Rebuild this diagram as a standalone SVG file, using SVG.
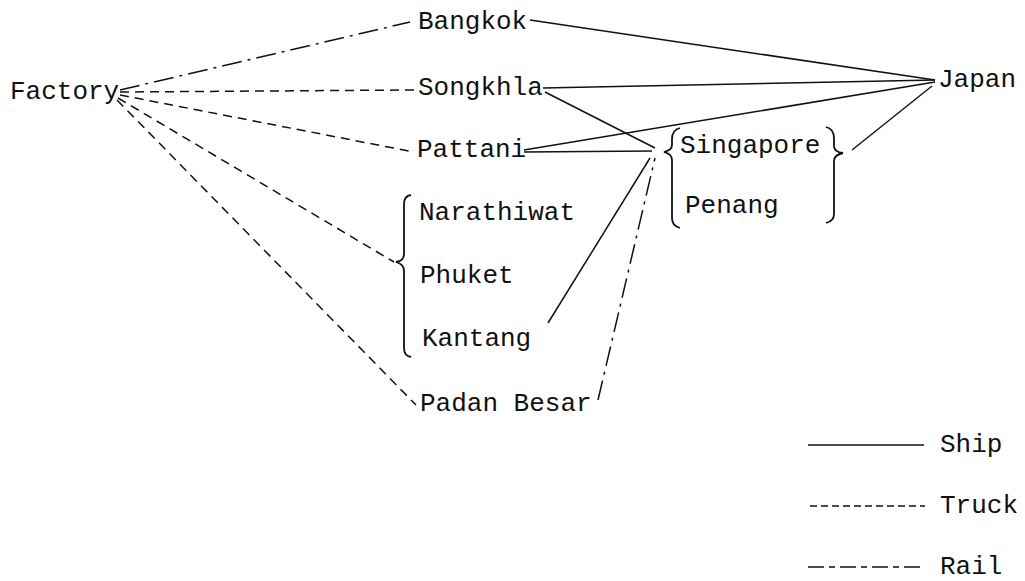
<svg xmlns="http://www.w3.org/2000/svg" width="1025" height="581" viewBox="0 0 1025 581">
<style>
text{font-family:"Liberation Mono","Courier New",monospace;font-size:26px;fill:#111;}
.ship{stroke:#111;stroke-width:1.5;fill:none;}
.truck{stroke:#111;stroke-width:1.5;fill:none;stroke-dasharray:9 6;}
.rail{stroke:#111;stroke-width:1.5;fill:none;stroke-dasharray:20 6 3 6;}
.brace{stroke:#111;stroke-width:1.8;fill:none;}
</style>
<rect width="1025" height="581" fill="#fff"/>
<g id="connectors">
<path class="rail" d="M120 90 L410 22"/>
<path class="truck" d="M120 92 L414 90"/>
<path class="truck" d="M120 95 L414 152"/>
<path class="truck" d="M118 98 L394 262"/>
<path class="truck" d="M117 100 L416 405"/>
<path class="ship" d="M530 20 L935 80"/>
<path class="ship" d="M543 88 L935 80"/>
<path class="ship" d="M545 92 L655 148"/>
<path class="ship" d="M524 150 L935 82"/>
<path class="ship" d="M524 152 L652 151"/>
<path class="ship" d="M548 323 L650 158"/>
<path class="rail" d="M598 400 L655 158"/>
<path class="ship" d="M852 150 L932 86"/>
</g>
<g id="factory"><text x="10" y="99">Factory</text></g>
<g id="bangkok"><text x="418" y="29">Bangkok</text></g>
<g id="songkhla"><text x="418" y="95">Songkhla</text></g>
<g id="pattani"><text x="417" y="157">Pattani</text></g>
<g id="japan"><text x="938" y="87">Japan</text></g>
<g id="southern-ports">
<path class="brace" d="M411 195 Q404 196 404 204 L404 254 Q404 261 396 262 Q404 264 404 271 L404 348 Q404 356 411 357"/>
<text x="419" y="220">Narathiwat</text>
<text x="420" y="283">Phuket</text>
<text x="422" y="346">Kantang</text>
</g>
<g id="padan-besar"><text x="420" y="411">Padan Besar</text></g>
<g id="transship">
<path class="brace" d="M680 128 Q672 130 672 139 L672 145 Q672 150 664 152 Q672 154 672 160 L672 218 Q672 226 680 228"/>
<text x="680" y="153">Singapore</text>
<text x="685" y="213">Penang</text>
<path class="brace" d="M826 127 Q834 129 834 138 L834 146 Q834 152 843 153 Q834 155 834 161 L834 214 Q834 221 826 223"/>
</g>
<g id="legend">
<path class="ship" d="M808 445 L924 445"/>
<text x="940" y="452">Ship</text>
<path class="truck" d="M810 506 L925 506" style="stroke-dasharray:7 4"/>
<text x="940" y="513">Truck</text>
<path class="rail" d="M808 567 L925 567" style="stroke-dasharray:16 5 6 5"/>
<text x="940" y="574">Rail</text>
</g>
</svg>
